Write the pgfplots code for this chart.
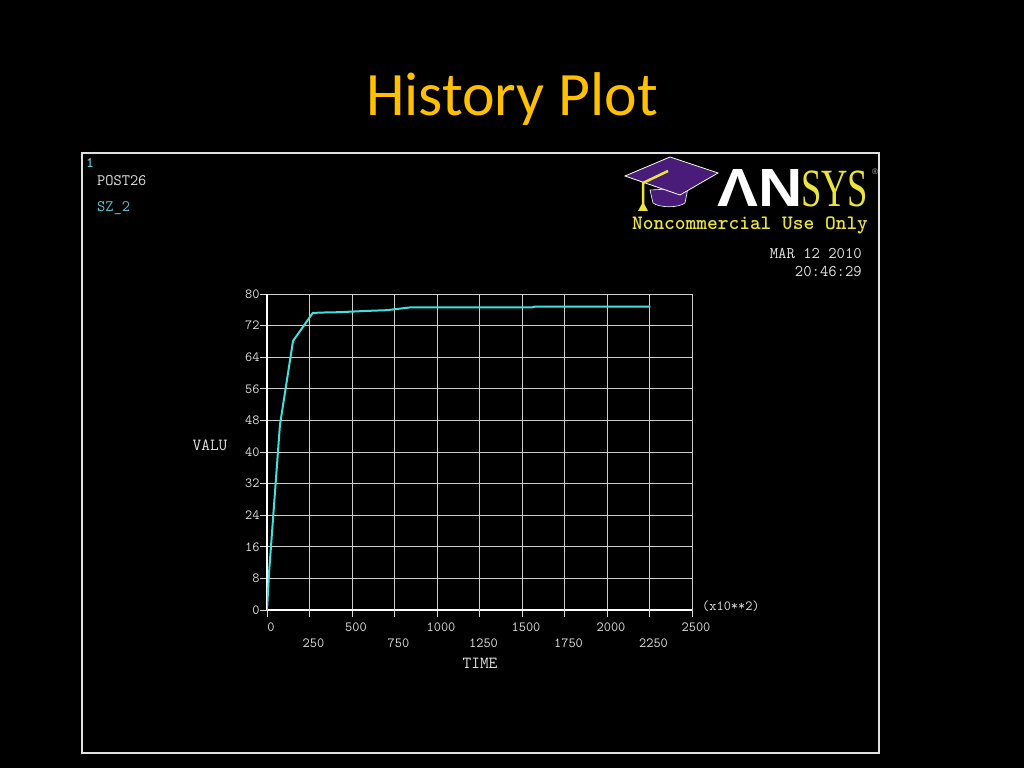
\documentclass[border=0pt]{standalone}
\usepackage{fontspec}
\usepackage{graphicx}
\usepackage{pgfplots}
\pgfplotsset{compat=1.18}
\newfontfamily\titlefont{Carlito}
\newfontfamily\logosans{Liberation Sans}
\newfontfamily\logoserif{Liberation Serif}
\definecolor{titlecol}{RGB}{255,192,0}
\definecolor{curve}{RGB}{64,224,220}
\definecolor{labcyan}{RGB}{90,200,210}
\definecolor{ansysyellow}{RGB}{235,228,60}
\definecolor{capPurple}{RGB}{72,28,120}
\definecolor{gridgray}{RGB}{205,205,205}
\definecolor{txt}{RGB}{225,225,225}
\begin{document}
\begin{tikzpicture}[x=1bp,y=1bp]
\fill[black] (0,0) rectangle (1024,768);
\useasboundingbox (0,0) rectangle (1024,768);
% title
\node[anchor=base, text=titlecol, font=\titlefont\fontsize{62}{62}\selectfont, inner sep=0] at (512,652) {History Plot};
% frame
\draw[white!88!black, line width=1.2bp] (82,15) rectangle (879,615);
% left labels
\node[anchor=west, inner sep=0, text=labcyan, font=\ttfamily\bfseries\fontsize{15}{15}\selectfont] at (86,605) {1};
\node[anchor=west, inner sep=0, text=txt, font=\ttfamily\fontsize{16}{16}\selectfont] at (97,587) {POST26};
\node[anchor=west, inner sep=0, text=labcyan, font=\ttfamily\fontsize{16}{16}\selectfont] at (97,560) {SZ\_2};
% logo
\fill[capPurple, draw=white, line width=0.6bp] (650,578) -- (653,565) .. controls (660,560) and (678,560) .. (685,565) -- (688,580) -- cycle;
\fill[capPurple, draw=white, line width=0.8bp] (625,592) -- (670,611) -- (718,595) -- (680,573) -- cycle;
\draw[ansysyellow, line width=2.5bp] (668,597) -- (643,585) -- (643,562);
\fill[ansysyellow] (638,557) -- (648,557) -- (643,566) -- cycle;
\node[anchor=base west, inner sep=0, text depth=0pt, text=white, font=\logosans\bfseries\fontsize{54}{54}\selectfont] at (717,561) {\scalebox{1.14}[1]{ΛN}};
\node[anchor=base west, inner sep=0, text depth=0pt, text=ansysyellow, font=\logoserif\fontsize{54}{54}\selectfont] at (801,561) {\scalebox{0.68}[1]{SYS}};
\node[anchor=center, inner sep=0, text=white!70!black, font=\logosans\fontsize{8}{8}\selectfont] at (875,596) {®};
\node[anchor=center, inner sep=0, text=ansysyellow, font=\ttfamily\bfseries\fontsize{20.5}{20.5}\selectfont] at (750,543) {Noncommercial Use Only};
\node[anchor=east, inner sep=0, text=txt, font=\ttfamily\fontsize{16.3}{16.3}\selectfont] at (862,514) {MAR 12 2010};
\node[anchor=east, inner sep=0, text=txt, font=\ttfamily\fontsize{16.3}{16.3}\selectfont] at (862,496) {20:46:29};
% axis labels
\node[anchor=center, inner sep=0, text=txt, font=\ttfamily\fontsize{17}{17}\selectfont] at (210,323) {VALU};
\node[anchor=center, inner sep=0, text=txt, font=\ttfamily\fontsize{17}{17}\selectfont] at (480,105) {TIME};
\node[anchor=west, inner sep=0, text=txt, font=\ttfamily\fontsize{14}{14}\selectfont] at (702,162) {(x10**2)};
\begin{axis}[
  at={(267bp,158bp)}, anchor=south west,
  scale only axis, width=425bp, height=316bp,
  xmin=0, xmax=2500, ymin=0, ymax=80,
  axis x line*=bottom, axis y line*=left,
  axis line style={white, line width=1.6bp, -},
  xtick={0,500,...,2500},
  extra x ticks={250,750,...,2250},
  extra x tick style={grid=major, tick label style={yshift=-16bp}},
  ytick={0,8,...,80},
  grid=major,
  major grid style={gridgray, line width=0.9bp},
  tick align=outside,
  major tick length=7bp,
  tick style={white!85!black, line width=0.9bp},
  /pgf/number format/assume math mode=true,
  /pgf/number format/1000 sep={},
  tick label style={text=txt, font=\ttfamily\fontsize{14}{14}\selectfont},
  xticklabel style={xshift=4bp, yshift=-2bp},
  yticklabel style={xshift=3bp},
]
\addplot[curve, line width=2bp, mark=none] coordinates {
(0,0) (12,9.4) (76,46.8) (153,68.1) (269,75.2) (321,75.3) (429,75.4)
(576,75.7) (704,75.9) (763,76.2) (841,76.6) (1557,76.6) (1576,76.8) (2255,76.8)
};
\end{axis}
\end{tikzpicture}
\end{document}
